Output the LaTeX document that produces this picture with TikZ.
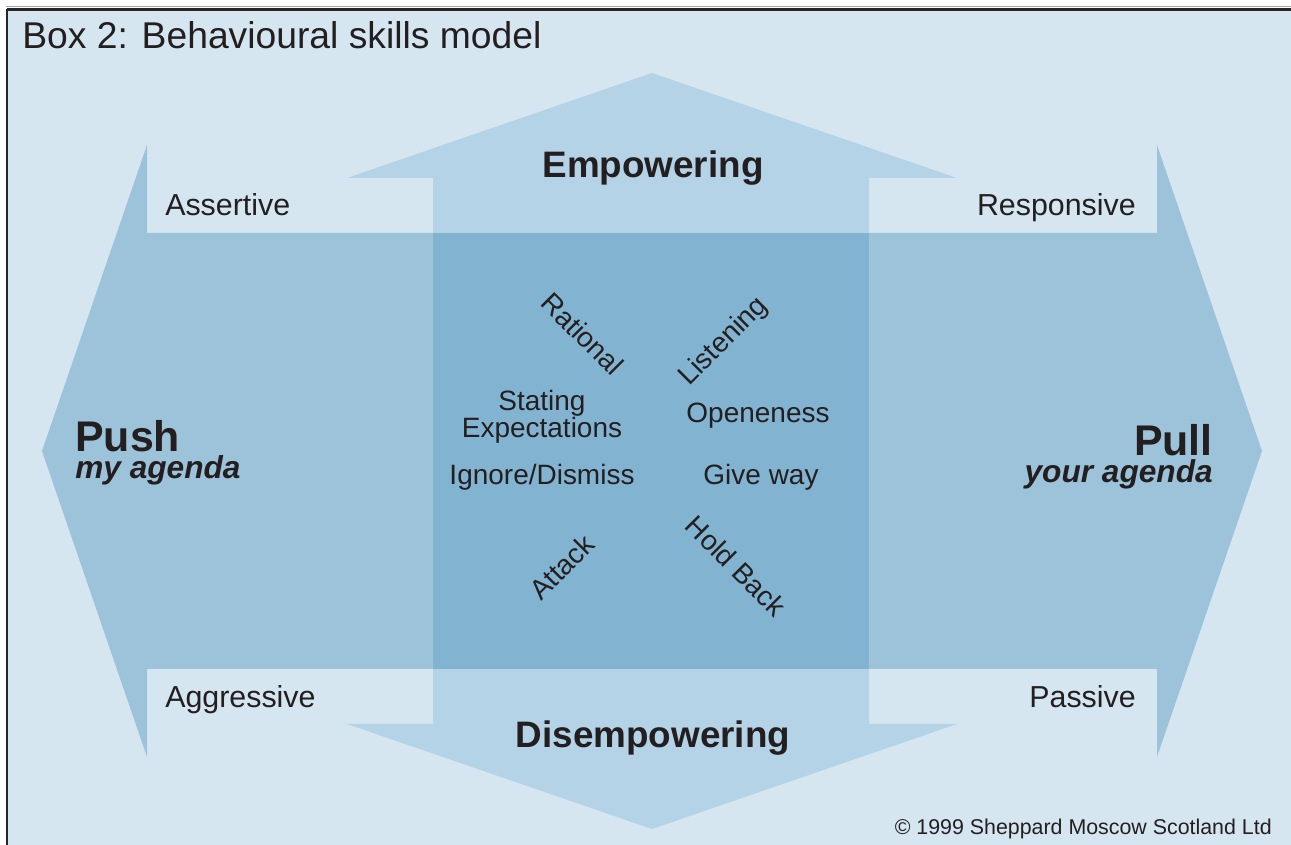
\documentclass[tikz,border=0pt]{standalone}
\usepackage{fontspec}
\setmainfont{Liberation Sans}
\definecolor{paperbg}{HTML}{D5E6F1}
\definecolor{pushpull}{HTML}{9CC3DA}
\definecolor{updown}{HTML}{B5D3E6}
\definecolor{overlap}{HTML}{82B3D1}
\definecolor{ink}{HTML}{231F20}
\begin{document}
\begin{tikzpicture}[x=0.025cm, y=-0.025cm,
  txt/.style={inner sep=0pt, text=ink},
  corner/.style={txt, font=\fontsize{21.6}{24}\selectfont},
  axis/.style={txt, font=\bfseries\fontsize{26.2}{30}\selectfont},
  side/.style={txt, font=\bfseries\fontsize{30.5}{34}\selectfont},
  agenda/.style={txt, font=\bfseries\itshape\fontsize{22.5}{26}\selectfont},
  skill/.style={txt, align=center, font=\fontsize{19.9}{18.5}\selectfont}]

  \useasboundingbox (0,0) rectangle (1291,845);

  % Rahmen und Hintergrund
  \fill[paperbg] (8,10) rectangle (1291,845);
  \draw[gray!70, line width=1pt] (6,6.5) -- (1291,6.5);
  \draw[black!85, line width=1.6pt] (7,9.5) -- (1291,9.5);
  \draw[black!85, line width=1.6pt] (7,9.5) -- (7,845);

  % Doppelpfeil Push/Pull
  \fill[pushpull] (42,451) -- (147,145) -- (147,233) -- (1157,233)
    -- (1157,145) -- (1262,451) -- (1157,757) -- (1157,669)
    -- (147,669) -- (147,757) -- cycle;

  % Doppelpfeil Empowering/Disempowering
  \fill[updown] (652,73) -- (957,178) -- (869,178) -- (869,724)
    -- (957,724) -- (652,829) -- (347,724) -- (433,724)
    -- (433,178) -- (347,178) -- cycle;

  % Ueberlappung
  \fill[overlap] (433,233) rectangle (869,669);

  % Titel
  \node[txt, anchor=base west, font=\fontsize{26.5}{30}\selectfont] (title) at (22,49)
    {Box 2: Behavioural skills model};

  % Achsen
  \node[axis, anchor=base] (emp) at (653,178) {Empowering};
  \node[axis, anchor=base] (disemp) at (653,747) {Disempowering};
  \node[side, anchor=base west] (push) at (75,452) {Push};
  \node[agenda, anchor=base west] (myag) at (75,479) {my agenda};
  \node[side, anchor=base east] (pull) at (1213,456) {Pull};
  \node[agenda, anchor=base east] (yourag) at (1213,483) {your agenda};

  % Ecken
  \node[corner, anchor=base west] (assertive) at (165,216) {Assertive};
  \node[corner, anchor=base east] (responsive) at (1136,216) {Responsive};
  \node[corner, anchor=base west] (aggressive) at (165,708) {Aggressive};
  \node[corner, anchor=base east] (passive) at (1136,708) {Passive};

  % Verhaltensweisen
  \node[skill, rotate=-45] (rational) at (583,334) {Rational};
  \node[skill, rotate=45] (listening) at (724,342) {Listening};
  \node[skill, rotate=45] (attack) at (562,567) {Attack};
  \node[skill, rotate=-45] (holdback) at (736,566) {Hold Back};
  \node[skill, anchor=base] (stating) at (542,438) {Stating\\Expectations};
  \node[skill, anchor=base] (openness) at (758,423) {Openeness};
  \node[skill, anchor=base] (ignore) at (542,485) {Ignore/Dismiss};
  \node[skill, anchor=base] (giveway) at (761,485) {Give way};

  % Copyright
  \node[txt, anchor=base east, font=\fontsize{15.2}{18}\selectfont] (copy) at (1272,834)
    {\textcopyright{} 1999 Sheppard Moscow Scotland Ltd};
\end{tikzpicture}
\end{document}
